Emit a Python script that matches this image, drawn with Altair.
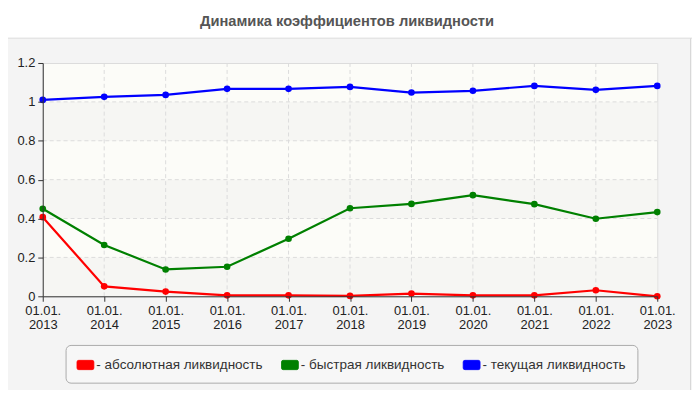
import pandas as pd
import altair as alt

# data
years = ["2013", "2014", "2015", "2016", "2017", "2018", "2019", "2020", "2021", "2022", "2023"]
absolute = [0.407, 0.051, 0.024, 0.005, 0.005, 0.002, 0.014, 0.005, 0.005, 0.031, 0.0]
quick = [0.450, 0.264, 0.138, 0.152, 0.296, 0.453, 0.475, 0.520, 0.474, 0.399, 0.433]
current = [1.010, 1.026, 1.036, 1.067, 1.067, 1.077, 1.048, 1.057, 1.082, 1.062, 1.082]

series_names = ["- абсолютная ликвидность", "- быстрая ликвидность", "- текущая ликвидность"]
series_colors = ["#ff0000", "#008000", "#0000ff"]
title_text = "Динамика коэффициентов ликвидности"

y_ticks = [0, 0.2, 0.4, 0.6, 0.8, 1.0, 1.2]
band_lo = [0.0, 0.4, 0.8]
band_hi = [0.2, 0.6, 1.0]

FONT = "Liberation Sans"
W, H = 619, 235

rows = []
for name, values in zip(series_names, [absolute, quick, current]):
    for yr, v in zip(years, values):
        rows.append({"series": name, "year": yr, "value": v})
df = pd.DataFrame(rows)

x_scale = alt.Scale(type="point", padding=0, domain=years)
y_scale = alt.Scale(domain=[0, 1.2], nice=False)

# one axis object per channel, shared by every layer so that merging is clean
x_axis = alt.Axis(
    title=None,
    labelAngle=0,
    labelExpr="['01.01.', datum.label]",
    labelFont=FONT,
    labelFontSize=13,
    labelColor="#222",
    labelLineHeight=14,
    labelBaseline="top",
    labelPadding=3,
    labelOverlap=False,
    tickColor="#333",
    tickSize=5,
    domainColor="#333",
    grid=False,
    zindex=1,
)
y_axis = alt.Axis(
    title=None,
    values=y_ticks,
    format="~g",
    labelFont=FONT,
    labelFontSize=13,
    labelColor="#222",
    labelPadding=3,
    labelOverlap=False,
    tickColor="#333",
    tickSize=5,
    domainColor="#333",
    grid=False,
    zindex=1,
)

rect_path = (
    "M-0.8,-0.55 H0.8 Q1,-0.55 1,-0.35 V0.35 Q1,0.55 0.8,0.55 "
    "H-0.8 Q-1,0.55 -1,0.35 V-0.35 Q-1,-0.55 -0.8,-0.55 Z"
)
legend = alt.Legend(
    title=None,
    orient="none",
    direction="horizontal",
    legendX=23,
    legendY=284,
    symbolType=rect_path,
    symbolSize=289,
    symbolStrokeColor="#999",
    symbolStrokeWidth=0.8,
    symbolOpacity=1,
    labelFont=FONT,
    labelFontSize=13.6,
    labelColor="#333",
    labelOffset=2,
    columnPadding=16,
    padding=11,
    fillColor="#f7f7f7",
    strokeColor="#aaa",
    cornerRadius=5,
    labelLimit=300,
)
color_enc = alt.Color(
    "series:N",
    scale=alt.Scale(domain=series_names, range=series_colors),
    legend=legend,
)

# panel decoration (white strip with title above the grey panel)
one = pd.DataFrame({"t": [title_text]})
strip = alt.Chart(one).mark_rect(color="white").encode(
    x=alt.value(-40), x2=alt.value(W + 40), y=alt.value(-60), y2=alt.value(-25)
)
strip_line = alt.Chart(one).mark_rule(color="#dcdcdc").encode(
    x=alt.value(-40), x2=alt.value(W + 40), y=alt.value(-25)
)
right_line = alt.Chart(one).mark_rule(color="#d8d8d8").encode(
    x=alt.value(W + 33.5), y=alt.value(-25), y2=alt.value(H + 100)
)
title = alt.Chart(one).mark_text(
    font=FONT, fontSize=14.8, fontWeight="bold", color="#555", baseline="alphabetic"
).encode(text="t:N", x=alt.value(W / 2 - 3), y=alt.value(-37))

bands = alt.Chart(pd.DataFrame({"value": band_lo, "hi": band_hi})).mark_rect(
    color="#f6f6f3"
).encode(
    y=alt.Y("value:Q", scale=y_scale, axis=y_axis), y2="hi:Q",
    x=alt.value(0), x2=alt.value(W),
)

h_grid = alt.Chart(pd.DataFrame({"value": y_ticks[1:-1]})).mark_rule(
    color="#dcdcdc", strokeDash=[4, 3]
).encode(y=alt.Y("value:Q", scale=y_scale, axis=y_axis), x=alt.value(0), x2=alt.value(W))

v_grid = alt.Chart(pd.DataFrame({"year": years[1:-1]})).mark_rule(
    color="#dcdcdc", strokeDash=[4, 3]
).encode(x=alt.X("year:O", scale=x_scale, axis=x_axis), y=alt.value(0), y2=alt.value(H))

base = alt.Chart(df).encode(
    x=alt.X("year:O", scale=x_scale, axis=x_axis),
    y=alt.Y("value:Q", scale=y_scale, axis=y_axis),
    color=color_enc,
)

lines = base.mark_line(strokeWidth=2.2)
points = base.mark_circle(size=45, opacity=1)

chart = (
    alt.layer(strip, strip_line, right_line, title, bands, h_grid, v_grid, lines, points)
    .properties(
        width=W,
        height=H,
        background="#f4f4f4",
        padding={"left": 35, "top": 54, "right": 35, "bottom": 93},
        autosize=alt.AutoSizeParams(type="none"),
    )
    .configure_view(fill="#fcfcf8", stroke="#dcdcdc")
)

chart.save("out.html", embed_options={"renderer": "svg", "actions": False})
